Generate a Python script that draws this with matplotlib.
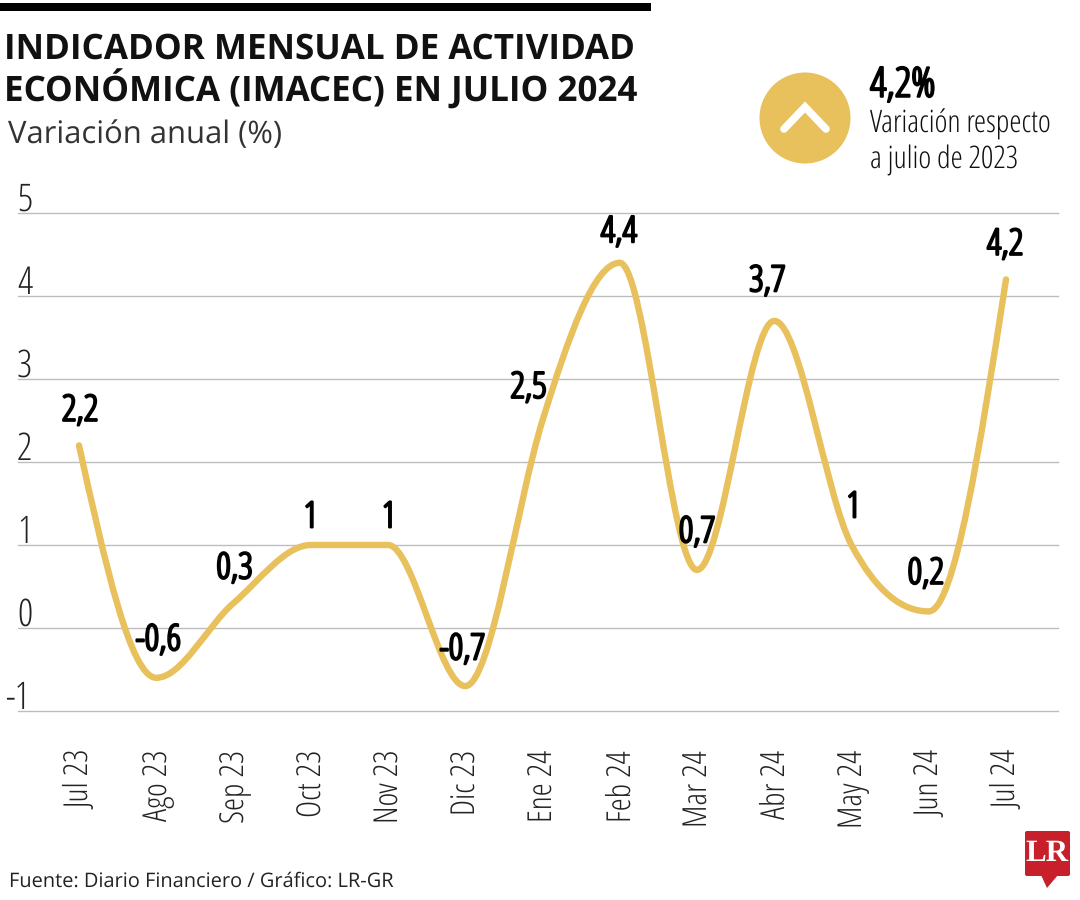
import numpy as np
import matplotlib
matplotlib.use('Agg')
from matplotlib import pyplot as plt
from matplotlib.path import Path
from matplotlib.patches import PathPatch, Circle, Polygon, FancyBboxPatch
from matplotlib.transforms import ScaledTranslation
import matplotlib.patheffects as pe

plt.rcParams['text.hinting'] = 'no_hinting'
plt.rcParams['text.hinting_factor'] = 1

W, H = 1080, 900
GOLD = '#E8C05C'

meses = ['Jul 23', 'Ago 23', 'Sep 23', 'Oct 23', 'Nov 23', 'Dic 23', 'Ene 24',
         'Feb 24', 'Mar 24', 'Abr 24', 'May 24', 'Jun 24', 'Jul 24']
valores = [2.2, -0.6, 0.3, 1, 1, -0.7, 2.5, 4.4, 0.7, 3.7, 1, 0.2, 4.2]
etiquetas = ['2,2', '-0,6', '0,3', '1', '1', '-0,7', '2,5', '4,4', '0,7', '3,7', '1', '0,2', '4,2']
y_ticks = [-1, 0, 1, 2, 3, 4, 5]

# label offsets from each point, in pixels
off_x = [1, 2, 1, 0, 1, -3, -14, -1, 0, -7, 2, -3, -1]
off_y = [34, 37, 34, 27, 27, 36, 32, 30, 37, 39, 37, 37, 34]

OPEN = ['Open Sans', 'DejaVu Sans']
# no condensed bold installed, so thicken the condensed regular
GRUESO = [pe.withStroke(linewidth=1.6, foreground='black')]


def monotone_path(x, y):
    # monotone cubic: flat tangent at each turning point
    x = np.asarray(x, float)
    y = np.asarray(y, float)
    d = np.diff(y) / np.diff(x)
    t = np.zeros(len(y))
    for i in range(1, len(y) - 1):
        if d[i - 1] * d[i] > 0:
            t[i] = (d[i - 1] + d[i]) / 2
            t[i] = np.sign(t[i]) * min(abs(t[i]), 3 * abs(d[i - 1]), 3 * abs(d[i]))
    t[0] = d[0] * 1.5 - t[1] * 0.5
    t[-1] = d[-1] * 1.5 - t[-2] * 0.5
    t[6] = 3.0  # the rise through Ene 24 is straighter in the original
    verts = [(x[0], y[0])]
    codes = [Path.MOVETO]
    for i in range(len(x) - 1):
        h = x[i + 1] - x[i]
        verts += [(x[i] + h / 3, y[i] + t[i] * h / 3),
                  (x[i + 1] - h / 3, y[i + 1] - t[i + 1] * h / 3),
                  (x[i + 1], y[i + 1])]
        codes += [Path.CURVE4] * 3
    return Path(verts, codes)


fig = plt.figure(figsize=(W / 100, H / 100), dpi=100, facecolor='white')

# overlay in pixel coordinates, y going down
bg = fig.add_axes([0, 0, 1, 1])
bg.set_xlim(0, W)
bg.set_ylim(H, 0)
bg.axis('off')

# plot axes: gridlines run 18-1058 px, y=5 at 213 px, y=-1 at 711 px
left, right, top, bottom = 18, 1058, 213, 711
ax = fig.add_axes([left / W, 1 - bottom / H, (right - left) / W, (bottom - top) / H])
ax.patch.set_alpha(0)
step = (1006 - 79) / 12
ax.set_xlim((left - 79) / step, (right - 79) / step)
ax.set_ylim(-1, 5)
for s in ax.spines.values():
    s.set_visible(False)
ax.set_yticks(y_ticks)
ax.set_yticklabels([])
ax.tick_params(length=0)
ax.yaxis.grid(True, color='#BDBDBD', lw=1, clip_on=False)
ax.set_axisbelow(True)
ax.set_xticks(range(len(meses)))
ax.set_xticklabels(meses, rotation=90, family=OPEN, fontsize=24, color='#222222',
                   stretch='condensed')
ax.tick_params(axis='x', pad=28)
for lab in ax.get_xticklabels():
    lab.set_transform(lab.get_transform() + ScaledTranslation(2 / 100, 0, fig.dpi_scale_trans))

x = np.arange(len(valores))
ax.add_patch(PathPatch(monotone_path(x, valores), fc='none', ec=GOLD, lw=4.6,
                       capstyle='round', joinstyle='round', clip_on=False))

for i, lab in enumerate(etiquetas):
    ax.annotate(lab, (x[i], valores[i]), xytext=(off_x[i] * 0.72, off_y[i] * 0.72),
                textcoords='offset points', ha='center', va='center',
                family=OPEN, stretch='condensed', fontsize=26, color='black',
                path_effects=GRUESO)

for v in y_ticks:
    ypix = top + (5 - v) * (bottom - top) / 6
    bg.text(5 if v < 0 else 17, ypix - 12, str(v), family=OPEN, stretch='condensed', fontsize=27,
            ha='left', va='center', color='#222222')

# header
bg.add_patch(plt.Rectangle((0, 3), 651, 8, fc='black', ec='none'))
bg.text(4, 50, 'INDICADOR MENSUAL DE ACTIVIDAD', family=OPEN, fontweight='bold',
        fontsize=25.25, va='center', color='#111111')
bg.text(4, 90, 'ECONÓMICA (IMACEC) EN JULIO 2024', family=OPEN, fontweight='bold',
        fontsize=25.25, va='center', color='#111111')
bg.text(8, 135, 'Variación anual (%)', family=OPEN, fontsize=22.2, va='center', color='#333333')

# callout
bg.add_patch(Circle((805, 118), 45.5, fc=GOLD, ec='none'))
bg.plot([784, 805, 826], [129, 107, 129], color='white', lw=5.5, solid_capstyle='round',
        solid_joinstyle='miter')
bg.text(870, 86, '4,2%', family=OPEN, stretch='condensed', fontsize=29.5,
        va='center', color='black', path_effects=GRUESO)
bg.text(870, 124, 'Variación respecto', family=OPEN, stretch='condensed', fontsize=22.3,
        va='center', color='#111111')
bg.text(870, 160, 'a julio de 2023', family=OPEN, stretch='condensed', fontsize=22.3,
        va='center', color='#111111')

# source and logo
bg.text(9, 882, 'Fuente: Diario Financiero / Gráfico: LR-GR', family=OPEN, fontsize=14.65,
        va='center', color='#222222')
bg.add_patch(FancyBboxPatch((1025, 831), 45, 45, boxstyle='round,pad=0,rounding_size=2',
                            fc='#C8202A', ec='none'))
bg.add_patch(Polygon([(1041, 875), (1058, 875), (1047, 888)], fc='#C8202A', ec='none'))
bg.text(1047.5, 854, 'LR', family=['Liberation Serif'], fontweight='bold', fontsize=22,
        color='white', ha='center', va='center')

fig.savefig('out.png', dpi=100)
